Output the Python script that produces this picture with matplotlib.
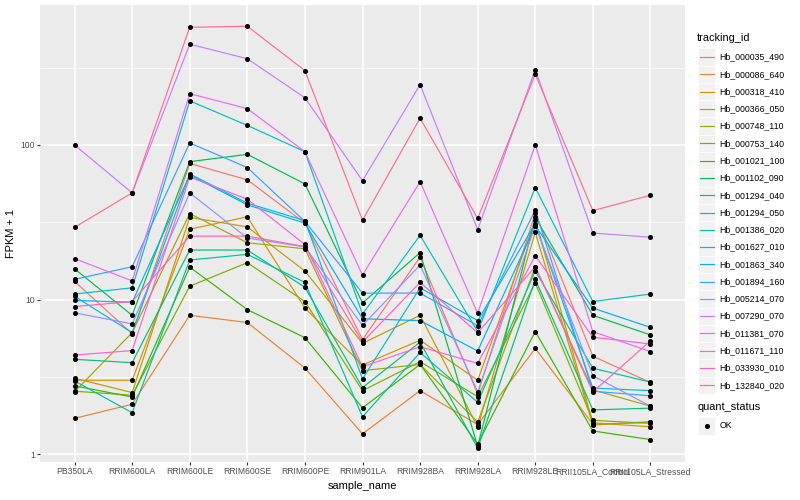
import matplotlib
matplotlib.use('Agg')
import matplotlib.pyplot as plt
from matplotlib.lines import Line2D
from matplotlib.patches import Rectangle
from matplotlib.ticker import FixedLocator, NullFormatter

plt.rcParams['font.family'] = ['Liberation Sans', 'DejaVu Sans']

samples = ['PB350LA', 'RRIM600LA', 'RRIM600LE', 'RRIM600SE', 'RRIM600PE', 'RRIM901LA',
           'RRIM928BA', 'RRIM928LA', 'RRIM928LE', 'RRII105LA_Control', 'RRII105LA_Stressed']

tracking_ids = ['Hb_000035_490', 'Hb_000086_640', 'Hb_000318_410', 'Hb_000366_050',
                'Hb_000748_110', 'Hb_000753_140', 'Hb_001021_100', 'Hb_001102_090',
                'Hb_001294_040', 'Hb_001294_050', 'Hb_001386_020', 'Hb_001627_010',
                'Hb_001863_340', 'Hb_001894_160', 'Hb_005214_070', 'Hb_007290_070',
                'Hb_011381_070', 'Hb_011671_110', 'Hb_033930_010', 'Hb_132840_020']

colors = ['#F8766D', '#EA8331', '#D89000', '#C09B00', '#A3A500', '#7CAE00', '#39B600',
          '#00BB4E', '#00BF7D', '#00C1A3', '#00BFC4', '#00BAE0', '#00B0F6', '#35A2FF',
          '#9590FF', '#C77CFF', '#E76BF3', '#FA62DB', '#FF62BC', '#FF6C91']

# FPKM + 1 per sample (order of `samples`)
hb_000035_490 = [13.1, 6.0, 76, 59.5, 31.2, 5.5, 18.8, 2.45, 36.2, 4.3, 2.9]
hb_000086_640 = [1.70, 2.1, 7.9, 7.1, 3.6, 1.35, 2.57, 1.55, 4.82, 1.56, 1.6]
hb_000318_410 = [3.0, 3.0, 28.5, 34.3, 8.8, 3.77, 5.45, 3.0, 32.6, 1.59, 1.5]
hb_000366_050 = [3.09, 2.5, 34, 29.5, 15.3, 5.2, 7.9, 1.5, 27.2, 1.54, 1.62]
hb_000748_110 = [2.53, 6.1, 36, 23.3, 21.3, 3.46, 3.8, 1.61, 16.3, 2.6, 2.04]
hb_000753_140 = [2.55, 2.4, 12.2, 17.3, 9.7, 2.57, 3.96, 2.35, 12.8, 1.65, 1.58]
hb_001021_100 = [2.76, 2.34, 16.2, 8.6, 5.66, 1.99, 3.8, 1.16, 6.2, 1.41, 1.24]
hb_001102_090 = [15.8, 7.9, 78, 87, 56, 9.5, 20.1, 1.12, 34.0, 7.9, 5.9]
hb_001294_040 = [4.1, 3.9, 20.9, 20.9, 12.0, 2.69, 5.3, 1.09, 13.5, 1.93, 1.98]
hb_001294_050 = [2.97, 1.85, 18, 19.6, 12.9, 1.74, 4.54, 2.16, 15.3, 3.59, 2.92]
hb_001386_020 = [10.85, 11.9, 193, 134, 90.5, 8.05, 26, 6.2, 53, 9.7, 10.85]
hb_001627_010 = [10.5, 6.1, 65, 42, 32.4, 3.06, 11.9, 7.3, 31.0, 2.67, 2.57]
hb_001863_340 = [9.86, 9.6, 64, 41, 31.2, 7.5, 7.3, 4.64, 30.0, 8.8, 6.6]
hb_001894_160 = [13.5, 16.3, 103, 71.5, 32.0, 11.0, 11.0, 6.77, 37.9, 2.55, 2.38]
hb_005214_070 = [8.2, 6.95, 49, 25, 21.9, 6.8, 16.7, 2.53, 30.0, 3.21, 2.04]
hb_007290_070 = [100, 49, 449, 362, 202, 58.7, 246, 28.3, 308, 26.9, 25.3]
hb_011381_070 = [18.4, 13.2, 215, 172, 90.5, 14.4, 57.8, 8.14, 100.4, 6.2, 4.6]
hb_011671_110 = [4.37, 4.67, 62, 44.6, 22.7, 3.67, 4.94, 3.86, 19.2, 5.7, 5.15]
hb_033930_010 = [9.0, 9.7, 25.7, 25.7, 22.0, 5.3, 12.9, 6.1, 16.3, 2.52, 5.4]
hb_132840_020 = [29.3, 49, 578, 587, 303, 32.6, 149, 33.5, 287, 37.6, 47.3]

series = [hb_000035_490, hb_000086_640, hb_000318_410, hb_000366_050, hb_000748_110,
          hb_000753_140, hb_001021_100, hb_001102_090, hb_001294_040, hb_001294_050,
          hb_001386_020, hb_001627_010, hb_001863_340, hb_001894_160, hb_005214_070,
          hb_007290_070, hb_011381_070, hb_011671_110, hb_033930_010, hb_132840_020]

W, H = 800, 500
fig = plt.figure(figsize=(8, 5), dpi=100)
fig.patch.set_facecolor('white')

# panel in pixel coords
pl, pr, pt, pb = 40, 685, 5, 462
ax = fig.add_axes([pl / W, 1 - pb / H, (pr - pl) / W, (pb - pt) / H])
ax.set_facecolor('#EBEBEB')
for s in ax.spines.values():
    s.set_visible(False)

x = list(range(len(samples)))
for vals, col in zip(series, colors):
    ax.plot(x, vals, color=col, lw=0.85, zorder=3, solid_capstyle='butt')
for vals in series:
    ax.plot(x, vals, ls='none', marker='o', ms=2.6, mfc='black', mec='black', zorder=4)

ax.set_yscale('log')
ax.set_ylim(10 ** (-8 / 154.5), 10 ** (449 / 154.5))
ax.set_xlim(-0.6, len(samples) - 1 + 0.6)

ax.yaxis.set_major_locator(FixedLocator([1, 10, 100]))
ax.set_yticklabels(['1', '10', '100'])
ax.yaxis.set_minor_locator(FixedLocator([10 ** 0.5, 10 ** 1.5, 10 ** 2.5]))
ax.yaxis.set_minor_formatter(NullFormatter())
ax.set_xticks(x)
ax.set_xticklabels(samples)

ax.grid(True, which='major', color='white', lw=1.1, zorder=0)
ax.grid(True, which='minor', axis='y', color='white', lw=0.55, zorder=0)
ax.set_axisbelow(True)

ax.tick_params(axis='both', which='major', length=2.2, width=0.8, color='#333333',
               labelsize=6.2, labelcolor='#4D4D4D', pad=1.5)
ax.tick_params(axis='y', which='minor', length=0)

ax.set_xlabel('sample_name', fontsize=7.9, color='black', labelpad=3.5)
ax.set_ylabel('FPKM + 1', fontsize=7.9, color='black', labelpad=3)

# legend: tracking_id
def fx(px):
    return px / W

def fy(py):
    return 1 - py / H

key = 17.28
kx = 698
fig.text(fx(697), fy(38), 'tracking_id', fontsize=7.9, va='center', ha='left')
y0 = 57
for i, (tid, col) in enumerate(zip(tracking_ids, colors)):
    yc = y0 + i * key
    fig.add_artist(Rectangle((fx(kx), fy(yc + key / 2)), key / W, key / H,
                             facecolor='#F2F2F2', edgecolor='white', lw=0.5))
    fig.add_artist(Line2D([fx(kx + 1.7), fx(kx + key - 1.7)], [fy(yc), fy(yc)],
                          color=col, lw=0.85))
    fig.text(fx(kx + key + 4), fy(yc), tid, fontsize=6.3, va='center', ha='left')

# legend: quant_status
fig.text(fx(697), fy(407), 'quant_status', fontsize=7.9, va='center', ha='left')
yc = 426
fig.add_artist(Rectangle((fx(kx), fy(yc + key / 2)), key / W, key / H,
                         facecolor='#F2F2F2', edgecolor='white', lw=0.5))
fig.add_artist(Line2D([fx(kx + key / 2)], [fy(yc)], ls='none', marker='o', ms=2.6,
                      mfc='black', mec='black'))
fig.text(fx(kx + key + 4), fy(yc), 'OK', fontsize=6.3, va='center', ha='left')

fig.savefig('out.png', dpi=100)
